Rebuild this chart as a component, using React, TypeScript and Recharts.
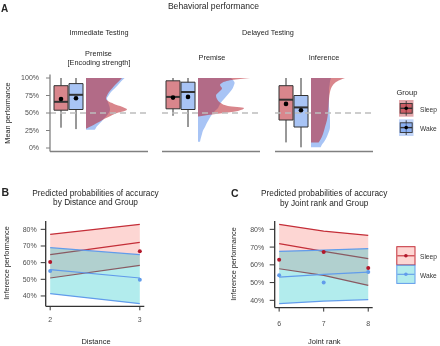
import React from 'react';
import {
  ComposedChart,
  Area,
  Line,
  Scatter,
  XAxis,
  YAxis,
  ReferenceArea,
  ReferenceLine,
} from 'recharts';

const FONT = '"Liberation Sans", Arial, Helvetica, sans-serif';

// ---------- Panel A: behavioural performance ----------
// boxplot stats per condition: [lower whisker, Q1, median, Q3, upper whisker]
const sleepBoxes = [
  [0.29, 0.54, 0.66, 0.89, 1.0],
  [0.46, 0.56, 0.73, 0.96, 1.0],
  [0.08, 0.4, 0.69, 0.89, 1.0],
];
const wakeBoxes = [
  [0.27, 0.55, 0.76, 0.92, 1.0],
  [0.3, 0.55, 0.8, 0.94, 1.0],
  [0.01, 0.3, 0.58, 0.75, 1.0],
];
const sleepMeans = [0.7, 0.72, 0.63];
const wakeMeans = [0.71, 0.73, 0.54];
const perfTicks = [0, 0.25, 0.5, 0.75, 1];

// half-violin densities, sampled at these performance levels
const violinLevels = [
  [1.0, 0.95, 0.9, 0.85, 0.8, 0.75, 0.71, 0.67, 0.63, 0.59, 0.55, 0.52, 0.5, 0.46, 0.42, 0.38, 0.35, 0.31, 0.28, 0.26],
  [1.0, 0.97, 0.93, 0.9, 0.85, 0.8, 0.75, 0.7, 0.65, 0.6, 0.57, 0.53, 0.5, 0.47, 0.45, 0.4, 0.35, 0.3, 0.25, 0.2, 0.15, 0.09],
  [1.0, 0.95, 0.9, 0.85, 0.8, 0.7, 0.6, 0.5, 0.4, 0.3, 0.2, 0.1, 0.08, 0.05, 0.01],
];
const sleepDensity: (number | null)[][] = [
  [1.8, 1.63, 1.45, 1.3, 1.15, 1.05, 1.0, 1.1, 1.4, 1.8, 2.05, 1.85, 1.55, 1.25, 0.95, 0.7, 0.5, 0.25, 0.03, null],
  [2.6, 1.7, 1.2, 1.1, 1.2, 1.05, 0.9, 0.95, 1.1, 1.5, 2.3, 2.0, 1.3, 0.5, 0.03, null, null, null, null, null, null, null],
  [1.7, 1.3, 1.1, 1.0, 0.95, 0.9, 0.88, 0.85, 0.8, 0.7, 0.6, 0.43, 0.38, null, null],
];
const wakeDensity: (number | null)[][] = [
  [1.93, 1.75, 1.6, 1.43, 1.25, 1.13, 1.05, 1.08, 1.13, 1.18, 1.2, 1.18, 1.13, 1.03, 0.9, 0.78, 0.68, 0.55, 0.48, 0.43],
  [1.65, 1.75, 1.83, 1.8, 1.73, 1.6, 1.45, 1.3, 1.15, 1.05, 1.0, 0.85, 0.75, 0.68, 0.63, 0.53, 0.43, 0.35, 0.25, 0.2, 0.15, 0.1],
  [1.0, 0.95, 0.93, 0.9, 0.9, 0.9, 0.9, 0.93, 0.95, 0.95, 0.85, 0.68, 0.63, 0.55, 0.48],
];

// ---------- Panel B: by distance ----------
const distance = [2, 3];
const sleepFitB = [0.648, 0.722];
const sleepLowB = [0.508, 0.584];
const sleepHighB = [0.77, 0.83];
const wakeFitB = [0.558, 0.508];
const wakeLowB = [0.414, 0.354];
const wakeHighB = [0.69, 0.648];
const sleepObsB = [0.604, 0.668];
const wakeObsB = [0.55, 0.498];

// ---------- Panel C: by joint rank ----------
const jointRank = [6, 7, 8];
const sleepFitC = [0.719, 0.676, 0.635];
const sleepLowC = [0.578, 0.541, 0.484];
const sleepHighC = [0.828, 0.79, 0.766];
const wakeFitC = [0.531, 0.546, 0.559];
const wakeLowC = [0.381, 0.396, 0.404];
const wakeHighC = [0.676, 0.683, 0.691];
const sleepObsC = [0.629, 0.672, 0.582];
const wakeObsC = [0.541, 0.5, 0.559];
const accTicks = [0.4, 0.5, 0.6, 0.7, 0.8];

// colours
const SLEEP_A = '#BA232E';
const WAKE_A = '#6194ED';
const A_OPACITY = 0.55;
const SLEEP_BAND = '#F8766D';
const WAKE_BAND = '#00BFC4';
const SLEEP_LINE = '#C42E38';
const WAKE_LINE = '#619CEB';
const INK = '#333333';
const TICK_TEXT = '#4d4d4d';
const TEXT = '#262626';

const pct = (v: number) => `${Math.round(v * 100)}%`;

// layout of the behavioural sub-panels (x axis runs in pixel units)
const PANEL_W = 98;
const SLEEP_X = 11;
const WAKE_X = 26;
const BOX_HALF = 7;
const VIOLIN_X = 36;
const VIOLIN_SCALE = 20;

// own compositing layer so text gets greyscale antialiasing
const layer = { willChange: 'transform' } as const;

const Dot = (color: string, r: number) => (p: any) =>
  p.cx == null ? <g /> : <circle cx={p.cx} cy={p.cy} r={r} fill={color} />;

function boxMarks(stats: number[], cx: number, color: string, key: string) {
  const [lo, q1, med, q3, hi] = stats;
  return [
    <ReferenceLine key={key + 'w1'} segment={[{ x: cx, y: lo }, { x: cx, y: q1 }]} stroke={INK} strokeWidth={1} />,
    <ReferenceLine key={key + 'w2'} segment={[{ x: cx, y: q3 }, { x: cx, y: hi }]} stroke={INK} strokeWidth={1} />,
    <ReferenceArea
      key={key + 'b'}
      x1={cx - BOX_HALF}
      x2={cx + BOX_HALF}
      y1={q1}
      y2={q3}
      fill={color}
      fillOpacity={A_OPACITY}
      stroke={INK}
      strokeWidth={1}
    />,
    <ReferenceLine
      key={key + 'm'}
      segment={[{ x: cx - BOX_HALF, y: med }, { x: cx + BOX_HALF, y: med }]}
      stroke={INK}
      strokeWidth={2}
    />,
  ];
}

function BehaviorPanel({ index, left }: { index: number; left: number }) {
  const first = index === 0;
  const yAxisW = first ? 50 : 0;
  const rows = violinLevels[index].map((perf, i) => {
    const s = sleepDensity[index][i];
    const w = wakeDensity[index][i];
    return {
      perf,
      sleep: s == null ? null : VIOLIN_X + s * VIOLIN_SCALE,
      wake: w == null ? null : VIOLIN_X + w * VIOLIN_SCALE,
    };
  });
  const means = [
    { x: SLEEP_X, perf: sleepMeans[index] },
    { x: WAKE_X, perf: wakeMeans[index] },
  ];
  return (
    <div style={{ position: 'absolute', left: left - yAxisW, top: 0, ...layer }}>
      <ComposedChart
        layout="vertical"
        width={yAxisW + PANEL_W + 2}
        height={154}
        data={rows}
        margin={{ top: 74.5, right: 2, bottom: 1.5, left: 0 }}
      >
        <XAxis
          type="number"
          dataKey="x"
          domain={[0, PANEL_W]}
          allowDataOverflow
          height={1}
          tick={false}
          tickLine={false}
          axisLine={{ stroke: '#808080', strokeWidth: 1.3 }}
        />
        <YAxis
          type="number"
          dataKey="perf"
          domain={[-0.05, 1.05]}
          reversed
          allowDataOverflow
          hide={!first}
          width={50}
          ticks={perfTicks}
          tickFormatter={pct}
          tickSize={4}
          tickMargin={7}
          tick={{ fontSize: 7, fill: TICK_TEXT, fontFamily: FONT }}
          tickLine={{ stroke: '#808080' }}
          axisLine={{ stroke: '#808080', strokeWidth: 1.3 }}
        />
        <Area
          dataKey="wake"
          type="monotone"
          baseValue={VIOLIN_X}
          fill={WAKE_A}
          fillOpacity={A_OPACITY}
          stroke="none"
          isAnimationActive={false}
        />
        <Area
          dataKey="sleep"
          type="monotone"
          baseValue={VIOLIN_X}
          fill={SLEEP_A}
          fillOpacity={A_OPACITY}
          stroke="none"
          isAnimationActive={false}
        />
        {boxMarks(sleepBoxes[index], SLEEP_X, SLEEP_A, 's')}
        {boxMarks(wakeBoxes[index], WAKE_X, WAKE_A, 'w')}
        <ReferenceLine y={0.5} stroke="#bdbdbd" strokeWidth={1.5} strokeDasharray="6 4" />
        <Scatter data={means} dataKey="perf" shape={Dot('#000', 2.3)} isAnimationActive={false} />
      </ComposedChart>
    </div>
  );
}

type PredProps = {
  xs: number[];
  sleepFit: number[];
  sleepLow: number[];
  sleepHigh: number[];
  wakeFit: number[];
  wakeLow: number[];
  wakeHigh: number[];
  sleepObs: number[];
  wakeObs: number[];
  xDomain: [number, number];
  yDomain: [number, number];
  left: number;
  top: number;
  axisW: number;
  plotW: number;
  plotH: number;
  tickGap: number;
  xTickGap: number;
};

function PredictionPanel(p: PredProps) {
  const rows = p.xs.map((x, i) => ({
    x,
    sleepBand: [p.sleepLow[i], p.sleepHigh[i]],
    sleepLow: p.sleepLow[i],
    sleepFit: p.sleepFit[i],
    sleepHigh: p.sleepHigh[i],
    wakeBand: [p.wakeLow[i], p.wakeHigh[i]],
    wakeLow: p.wakeLow[i],
    wakeFit: p.wakeFit[i],
    wakeHigh: p.wakeHigh[i],
  }));
  const sleepPts = p.xs.map((x, i) => ({ x, obs: p.sleepObs[i] }));
  const wakePts = p.xs.map((x, i) => ({ x, obs: p.wakeObs[i] }));
  const lineProps = { type: 'linear' as const, dot: false, activeDot: false, isAnimationActive: false, strokeWidth: 1.2 };
  return (
    <div style={{ position: 'absolute', left: p.left, top: p.top, ...layer }}>
      <ComposedChart
        width={p.axisW + p.plotW + 4}
        height={p.plotH + 30}
        data={rows}
        margin={{ top: 0, right: 4, bottom: 0, left: 0 }}
      >
        <XAxis
          type="number"
          dataKey="x"
          domain={p.xDomain}
          allowDataOverflow
          ticks={p.xs}
          height={30}
          tickSize={4}
          tickMargin={p.xTickGap}
          tick={{ fontSize: 7, fill: TICK_TEXT, fontFamily: FONT }}
          tickLine={{ stroke: INK }}
          axisLine={{ stroke: INK, strokeWidth: 1.3 }}
        />
        <YAxis
          type="number"
          domain={p.yDomain}
          allowDataOverflow
          ticks={accTicks}
          tickFormatter={pct}
          width={p.axisW}
          tickSize={5}
          tickMargin={p.tickGap}
          tick={{ fontSize: 7, fill: TICK_TEXT, fontFamily: FONT }}
          tickLine={{ stroke: INK }}
          axisLine={{ stroke: INK, strokeWidth: 1.3 }}
        />
        <Area dataKey="sleepBand" type="linear" fill={SLEEP_BAND} fillOpacity={0.3} stroke="none" isAnimationActive={false} zIndex={101} />
        <Line dataKey="sleepHigh" stroke={SLEEP_LINE} {...lineProps} zIndex={102} />
        <Line dataKey="sleepFit" stroke={SLEEP_LINE} {...lineProps} zIndex={102} />
        <Line dataKey="sleepLow" stroke={SLEEP_LINE} {...lineProps} zIndex={102} />
        <Area dataKey="wakeBand" type="linear" fill={WAKE_BAND} fillOpacity={0.3} stroke="none" isAnimationActive={false} zIndex={103} />
        <Line dataKey="wakeHigh" stroke={WAKE_LINE} {...lineProps} zIndex={104} />
        <Line dataKey="wakeFit" stroke={WAKE_LINE} {...lineProps} zIndex={104} />
        <Line dataKey="wakeLow" stroke={WAKE_LINE} {...lineProps} zIndex={104} />
        <Scatter data={sleepPts} dataKey="obs" shape={Dot('#B2182B', 2)} isAnimationActive={false} zIndex={105} />
        <Scatter data={wakePts} dataKey="obs" shape={Dot(WAKE_LINE, 2)} isAnimationActive={false} zIndex={105} />
      </ComposedChart>
    </div>
  );
}

function Labels() {
  const t = { fontFamily: FONT, fill: TEXT } as const;
  const mid = { ...t, textAnchor: 'middle' as const, dominantBaseline: 'central' as const };
  return (
    <svg
      width={440}
      height={346}
      style={{ position: 'absolute', left: 0, top: 0, pointerEvents: 'none', ...layer }}
    >
      <text x={1} y={11.5} fontSize={10} fontWeight="bold" {...t}>A</text>
      <text x={213.5} y={6} fontSize={8.6} {...mid}>Behavioral performance</text>
      <text x={99} y={32} fontSize={7.3} {...mid}>Immediate Testing</text>
      <text x={268} y={32} fontSize={7.3} {...mid}>Delayed Testing</text>
      <text x={98.5} y={53} fontSize={7.3} {...mid}>Premise</text>
      <text x={99} y={62} fontSize={7.3} {...mid}>[Encoding strength]</text>
      <text x={212} y={57} fontSize={7.3} {...mid}>Premise</text>
      <text x={324} y={57} fontSize={7.3} {...mid}>Inference</text>
      <text x={7} y={113} fontSize={7.3} transform="rotate(-90 7 113)" {...mid}>Mean performance</text>

      {/* group legend for the boxplots */}
      <text x={396.5} y={92} fontSize={7.5} {...t} dominantBaseline="central">Group</text>
      {[
        { y: 100, c: SLEEP_A, label: 'Sleep' },
        { y: 119.3, c: WAKE_A, label: 'Wake' },
      ].map((k) => (
        <g key={k.label}>
          <rect x={399} y={k.y} width={14.5} height={16.7} fill={k.c} fillOpacity={0.4} />
          <line x1={406.2} x2={406.2} y1={k.y + 1} y2={k.y + 15.7} stroke={INK} strokeWidth={0.9} />
          <rect x={400.2} y={k.y + 3.5} width={12} height={9.7} fill={k.c} fillOpacity={0.55} stroke={INK} strokeWidth={0.9} />
          <line x1={400.2} x2={412.2} y1={k.y + 8.3} y2={k.y + 8.3} stroke={INK} strokeWidth={1.4} />
          <circle cx={406.2} cy={k.y + 8.3} r={1.8} fill="#000" />
          <text x={420} y={k.y + 9} fontSize={6.6} {...t} fill="#333" dominantBaseline="central">{k.label}</text>
        </g>
      ))}

      <text x={1.5} y={196} fontSize={10.5} fontWeight="bold" {...t}>B</text>
      <text x={95.5} y={192.5} fontSize={8.3} {...mid}>Predicted probabilities of accuracy</text>
      <text x={95.5} y={202.3} fontSize={8.3} {...mid}>by Distance and Group</text>
      <text x={6} y={263} fontSize={7.3} transform="rotate(-90 6 263)" {...mid}>Inference performance</text>
      <text x={96} y={341} fontSize={7.5} {...mid}>Distance</text>

      <text x={231} y={196.5} fontSize={10.5} fontWeight="bold" {...t}>C</text>
      <text x={324.2} y={193} fontSize={8.3} {...mid}>Predicted probabilities of accuracy</text>
      <text x={324.2} y={202.8} fontSize={8.3} {...mid}>by Joint rank and Group</text>
      <text x={233.3} y={264} fontSize={7.3} transform="rotate(-90 233.3 264)" {...mid}>Inference performance</text>
      <text x={324.3} y={341.7} fontSize={7.5} {...mid}>Joint rank</text>

      {/* group legend for the prediction lines */}
      {[
        { y: 246.7, band: SLEEP_BAND, line: SLEEP_LINE, dot: '#B2182B', label: 'Sleep' },
        { y: 265.2, band: WAKE_BAND, line: WAKE_LINE, dot: WAKE_LINE, label: 'Wake' },
      ].map((k) => (
        <g key={k.label}>
          <rect x={396.8} y={k.y} width={18.2} height={18.2} fill={k.band} fillOpacity={0.3} stroke={k.line} strokeWidth={1} />
          <line x1={397.3} x2={414.5} y1={k.y + 9.1} y2={k.y + 9.1} stroke={k.line} strokeWidth={1.1} />
          <circle cx={405.9} cy={k.y + 9.1} r={1.8} fill={k.dot} />
          <text x={420} y={k.y + 10} fontSize={6.6} {...t} fill="#333" dominantBaseline="central">{k.label}</text>
        </g>
      ))}
    </svg>
  );
}

export default function App() {
  return (
    <div
      style={{
        position: 'absolute',
        left: 0,
        top: 0,
        width: 440,
        height: 346,
        background: '#fff',
        overflow: 'hidden',
      }}
    >
      <BehaviorPanel index={0} left={50} />
      <BehaviorPanel index={1} left={162} />
      <BehaviorPanel index={2} left={275} />
      <PredictionPanel
        xs={distance}
        sleepFit={sleepFitB}
        sleepLow={sleepLowB}
        sleepHigh={sleepHighB}
        wakeFit={wakeFitB}
        wakeLow={wakeLowB}
        wakeHigh={wakeHighB}
        sleepObs={sleepObsB}
        wakeObs={wakeObsB}
        xDomain={[1.95, 3.05]}
        yDomain={[0.338, 0.85]}
        left={0}
        top={220.7}
        axisW={45.7}
        plotW={98.6}
        plotH={85.3}
        tickGap={4}
        xTickGap={7}
      />
      <PredictionPanel
        xs={jointRank}
        sleepFit={sleepFitC}
        sleepLow={sleepLowC}
        sleepHigh={sleepHighC}
        wakeFit={wakeFitC}
        wakeLow={wakeLowC}
        wakeHigh={wakeHighC}
        sleepObs={sleepObsC}
        wakeObs={wakeObsC}
        xDomain={[5.9, 8.1]}
        yDomain={[0.359, 0.847]}
        left={230}
        top={220.7}
        axisW={44.7}
        plotW={98}
        plotH={86.6}
        tickGap={5.5}
        xTickGap={9}
      />
      <Labels />
    </div>
  );
}
